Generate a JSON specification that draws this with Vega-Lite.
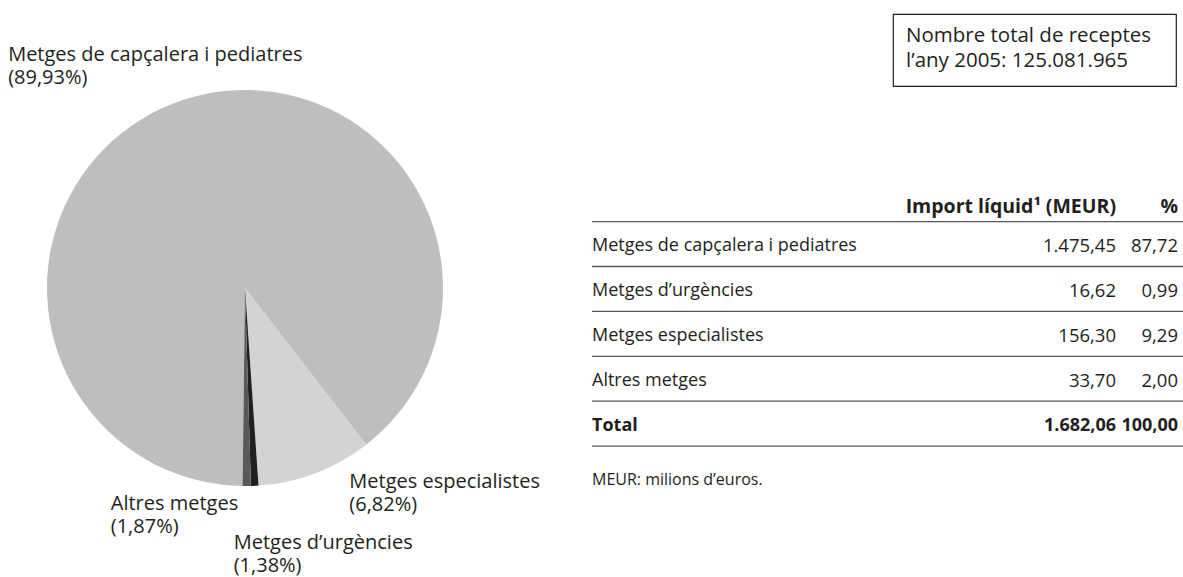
{
  "$schema": "https://vega.github.io/schema/vega-lite/v6.json",
  "padding": {"left": 0, "top": 13, "right": 0, "bottom": 0},
  "autosize": {"type": "pad"},
  "background": "white",
  "config": {
    "view": {"stroke": null},
    "font": "Open Sans",
    "text": {"font": "Open Sans", "color": "#231f20"}
  },
  "bounds": "flush",
  "spacing": 102,
  "hconcat": [
    {
      "width": 490,
      "height": 548,
      "data": {
        "values": [
          {"cat": "Metges de capçalera i pediatres", "ord": 1, "share": 89.33, "label": "Metges de capçalera i pediatres\n(89,93%)"},
          {"cat": "Metges especialistes", "ord": 2, "share": 9.39, "label": "Metges especialistes\n(6,82%)"},
          {"cat": "Metges d’urgències", "ord": 3, "share": 0.61, "label": "Metges d’urgències\n(1,38%)"},
          {"cat": "Altres metges", "ord": 4, "share": 0.67, "label": "Altres metges\n(1,87%)"}
        ]
      },
      "encoding": {
        "theta": {"field": "share", "type": "quantitative", "stack": true, "scale": {"domain": [0, 100], "range": [3.1538, 9.437]}},
        "order": {"field": "ord", "type": "quantitative"}
      },
      "layer": [
        {
          "mark": {"type": "arc", "radius": 198},
          "encoding": {
            "color": {
              "field": "cat", "type": "nominal", "legend": null,
              "scale": {
                "domain": ["Metges de capçalera i pediatres", "Metges especialistes", "Metges d’urgències", "Altres metges"],
                "range": ["#bcbec0", "#d1d3d4", "#231f20", "#58595b"]
              }
            }
          }
        },
        {
          "mark": {
            "type": "text", "radius": 198, "align": "left", "baseline": "middle",
            "lineBreak": "\n", "lineHeight": 23, "fontSize": 20, "color": "#231f20",
            "dx": {"expr": "datum.ord == 1 ? -174 : datum.ord == 2 ? 34 : datum.ord == 3 ? -21 : -136"},
            "dy": {"expr": "datum.ord == 1 ? -45 : datum.ord == 2 ? 9 : datum.ord == 3 ? 57 : 18"}
          },
          "encoding": {
            "detail": {"field": "cat", "type": "nominal"},
            "text": {"field": "label"}
          }
        }
      ]
    },
    {
      "bounds": "flush",
      "spacing": 162.7,
      "vconcat": [
        {
          "bounds": "flush",
          "spacing": 0,
          "hconcat": [
            {
              "width": 301, "height": 72,
              "data": {"values": []},
              "mark": "point",
              "encoding": {}
            },
            {
              "width": 283, "height": 72,
              "view": {"stroke": "#231f20", "strokeWidth": 1.2},
              "data": {"values": [{"t": "Nombre total de receptes\nl’any 2005: 125.081.965"}]},
              "mark": {"type": "text", "align": "left", "baseline": "middle", "lineBreak": "\n", "lineHeight": 25, "fontSize": 20.5, "dy": -14, "color": "#231f20"},
              "encoding": {"text": {"field": "t"}, "x": {"value": 13}}
            }
          ]
        },
        {
          "width": 591,
          "height": 314.3,
          "data": {
            "values": [
              {"row": "h", "kind": "head", "label": "", "imp": "Import líquid¹ (MEUR)", "pct": "%"},
              {"row": "r1", "kind": "body", "label": "Metges de capçalera i pediatres", "imp": "1.475,45", "pct": "87,72"},
              {"row": "r2", "kind": "body", "label": "Metges d’urgències", "imp": "16,62", "pct": "0,99"},
              {"row": "r3", "kind": "body", "label": "Metges especialistes", "imp": "156,30", "pct": "9,29"},
              {"row": "r4", "kind": "body", "label": "Altres metges", "imp": "33,70", "pct": "2,00"},
              {"row": "t", "kind": "total", "label": "Total", "imp": "1.682,06", "pct": "100,00"},
              {"row": "n", "kind": "note", "label": "MEUR: milions d’euros.", "imp": "", "pct": ""}
            ]
          },
          "encoding": {
            "y": {"field": "row", "type": "ordinal", "axis": null, "scale": {"type": "band", "domain": ["h", "r1", "r2", "r3", "r4", "t", "n"], "paddingInner": 0, "paddingOuter": 0}}
          },
          "layer": [
            {
              "transform": [{"filter": "datum.kind != 'note'"}],
              "mark": {"type": "rule", "color": "#58595b", "strokeWidth": 1.3},
              "encoding": {"y": {"field": "row", "type": "ordinal", "bandPosition": 1, "axis": null}}
            },
            {
              "transform": [{"filter": "datum.kind != 'note'"}],
              "mark": {"type": "text", "align": "left", "baseline": "middle", "fontSize": 18, "color": "#231f20",
                "fontWeight": {"expr": "datum.kind == 'body' ? 'normal' : 'bold'"},
                "dy": {"expr": "datum.kind == 'head' ? 8 : 2"}},
              "encoding": {"text": {"field": "label"}, "x": {"value": 0}}
            },
            {
              "transform": [{"filter": "datum.kind != 'note'"}],
              "mark": {"type": "text", "align": "right", "baseline": "middle", "color": "#231f20",
                "fontSize": {"expr": "datum.kind == 'head' ? 19.5 : datum.kind == 'total' ? 18 : 18.5"},
                "fontWeight": {"expr": "datum.kind == 'body' ? 'normal' : 'bold'"},
                "dy": {"expr": "datum.kind == 'head' ? 8 : 2"}},
              "encoding": {"text": {"field": "imp"}, "x": {"value": 524}}
            },
            {
              "transform": [{"filter": "datum.kind != 'note'"}],
              "mark": {"type": "text", "align": "right", "baseline": "middle", "color": "#231f20",
                "fontSize": {"expr": "datum.kind == 'head' ? 19.5 : datum.kind == 'total' ? 18 : 18.5"},
                "fontWeight": {"expr": "datum.kind == 'body' ? 'normal' : 'bold'"},
                "dy": {"expr": "datum.kind == 'head' ? 8 : 2"}},
              "encoding": {"text": {"field": "pct"}, "x": {"value": 586}}
            },
            {
              "transform": [{"filter": "datum.kind == 'note'"}],
              "mark": {"type": "text", "align": "left", "baseline": "middle", "fontSize": 16, "color": "#231f20", "dy": 11},
              "encoding": {"text": {"field": "label"}, "x": {"value": 0}}
            }
          ]
        }
      ]
    }
  ]
}
